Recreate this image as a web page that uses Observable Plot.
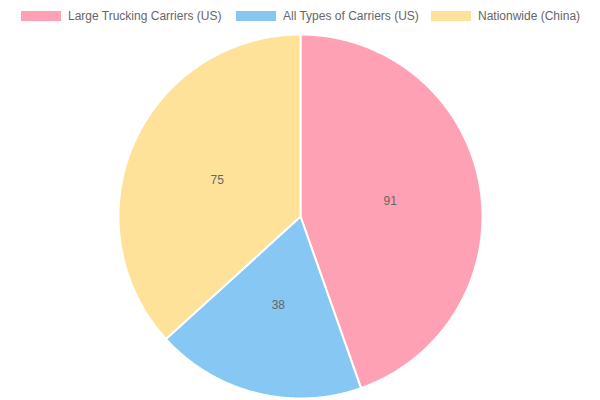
<!DOCTYPE html>
<html>
<head>
<meta charset="utf-8">
<script src="https://cdn.jsdelivr.net/npm/d3@7"></script>
<script src="https://cdn.jsdelivr.net/npm/@observablehq/plot@0.6"></script>
<style>
  html, body { margin: 0; padding: 0; background: #fff; }
  body { width: 600px; height: 400px; overflow: hidden; font-family: "Liberation Sans", Arial, Helvetica, sans-serif; }
  #legend { height: 30px; position: relative; }
  .item { position: absolute; top: 10px; height: 12px; display: flex; align-items: center; font-size: 12px; color: #666; white-space: nowrap; }
  .swatch { display: block; width: 40px; height: 10px; margin-right: 7px; flex: none; }
  #chart svg { display: block; }
</style>
</head>
<body>
<div id="legend"></div>
<div id="chart"></div>
<script>
const labels = ["Large Trucking Carriers (US)", "All Types of Carriers (US)", "Nationwide (China)"];
const values = [91, 38, 75];
const colors = ["#FFA1B5", "#86C7F3", "#FFE29A"];

// legend
const legendX = [21, 236, 431];
const legend = document.getElementById("legend");
labels.forEach((l, i) => {
  const it = document.createElement("div");
  it.className = "item";
  it.style.left = legendX[i] + "px";
  it.innerHTML = `<span class="swatch" style="background:${colors[i]}"></span><span>${l}</span>`;
  legend.appendChild(it);
});

// pie geometry (unit circle, angles clockwise from top)
const arcs = d3.pie().sort(null).value(d => d.value)(labels.map((label, i) => ({label, value: values[i]})));
const pt = (a, r = 1) => [r * Math.sin(a), r * Math.cos(a)];
const features = arcs.map(a => {
  const ring = [[0, 0]];
  const n = Math.max(2, Math.ceil((a.endAngle - a.startAngle) / 0.01));
  for (let k = 0; k <= n; k++) ring.push(pt(a.startAngle + (a.endAngle - a.startAngle) * k / n));
  ring.push([0, 0]);
  return {type: "Feature", properties: {label: a.data.label}, geometry: {type: "Polygon", coordinates: [ring]}};
});
const circle = {type: "Polygon", coordinates: [d3.range(0, 361, 2).map(d => pt(d * Math.PI / 180))]};
const labelPts = arcs.map(a => {
  const m = (a.startAngle + a.endAngle) / 2;
  const [x, y] = pt(m, 0.5);
  return {x, y, text: String(a.data.value)};
});

const projection = d3.geoIdentity().reflectY(true).fitExtent([[118, 4], [482, 368]], circle);

const chart = Plot.plot({
  width: 600,
  height: 370,
  margin: 0,
  projection,
  color: {domain: labels, range: colors},
  marks: [
    Plot.geo(features, {fill: d => d.properties.label, stroke: "white", strokeWidth: 2, strokeLinejoin: "round"}),
    Plot.text(labelPts, {x: "x", y: "y", text: "text", fill: "#666", fontSize: 12, fontFamily: "Liberation Sans, Arial, sans-serif"})
  ]
});
document.getElementById("chart").appendChild(chart);
</script>
</body>
</html>
